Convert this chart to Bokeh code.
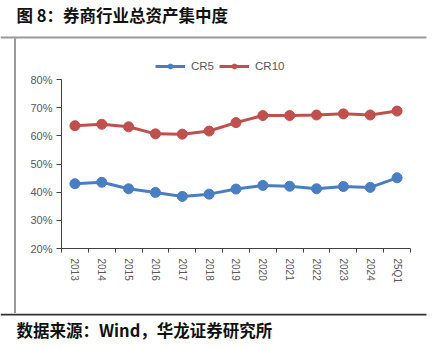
from bokeh.plotting import figure
from bokeh.layouts import column, row
from bokeh.models import (Range1d, FixedTicker, PrintfTickFormatter, Label,
                          BoxAnnotation, Legend, LegendItem, Div)
from bokeh.embed import file_html
from bokeh.resources import INLINE

title_text = "图 8：券商行业总资产集中度"
source_text = "数据来源：Wind，华龙证券研究所"
periods = ["2013", "2014", "2015", "2016", "2017", "2018", "2019",
           "2020", "2021", "2022", "2023", "2024", "25Q1"]
cr5 = [43.0, 43.5, 41.2, 39.9, 38.5, 39.3, 41.1, 42.4, 42.1, 41.2, 42.0, 41.7, 45.1]
cr10 = [63.6, 64.1, 63.2, 60.7, 60.6, 61.7, 64.7, 67.2, 67.2, 67.4, 67.8, 67.4, 68.8]
y_ticks = [20, 30, 40, 50, 60, 70, 80]

W, H = 435, 348
TOP_H = 39          # title band height
BOT_Y = 313         # footer band starts here
STRIP_W = 16        # left strip with vertical rule
MID_H = BOT_Y - TOP_H
MAIN_W = W - STRIP_W

BLUE = "#4A7EC2"
RED = "#C0504D"
AX = "#404040"
LBL = "#595959"
RULE = "#9a9a9a"


def blank(w, h):
    f = figure(width=w, height=h, output_backend="svg", toolbar_location=None,
               x_axis_location=None, y_axis_location=None,
               x_range=Range1d(0, w), y_range=Range1d(0, h),
               min_border=0, min_border_left=0, min_border_right=0,
               min_border_top=0, min_border_bottom=0)
    f.outline_line_color = None
    f.grid.visible = False
    f.background_fill_color = "white"
    f.border_fill_color = "white"
    return f


def box(f, h, x0, x1, y0, y1, color):
    # x0..x1, y0..y1 in the band's own pixels from its top-left corner
    f.add_layout(BoxAnnotation(left=x0, right=x1, top=h - y0, bottom=h - y1,
                               left_units="screen", right_units="screen",
                               top_units="screen", bottom_units="screen",
                               fill_color=color, fill_alpha=1, line_color=None))


# ---- title band ----
ft = blank(W, TOP_H)
ft.add_layout(Label(x=16, y=TOP_H - 26, x_units="screen", y_units="screen", text=title_text,
                    text_font="Noto Sans CJK SC", text_font_style="bold",
                    text_font_size="16.5px", text_color="#111111"))
box(ft, TOP_H, 0, 426, 36, 38, RULE)
box(ft, TOP_H, 14, 16, 37, TOP_H, RULE)

# ---- left strip (vertical rule) ----
fs = Div(text="", width=STRIP_W, height=MID_H,
         styles={"background": "linear-gradient(to right, #ffffff 14px, %s 14px, %s 16px)"
                 % (RULE, RULE),
                 "margin": "0", "padding": "0"})

# ---- main chart ----
FL, FR, FT, FB = 61 - STRIP_W, 410 - STRIP_W, 58 - TOP_H, 248 - TOP_H
Y0, Y80 = 248 - TOP_H, 79 - TOP_H
y_top = 80 + (Y80 - FT) * 60.0 / (Y0 - Y80)

xs = list(range(len(periods)))
p = figure(width=MAIN_W, height=MID_H, output_backend="svg", toolbar_location=None,
           x_range=Range1d(-0.5, len(periods) - 0.5), y_range=Range1d(20, y_top),
           min_border_left=FL, min_border_right=MAIN_W - FR,
           min_border_top=FT, min_border_bottom=MID_H - FB)
p.outline_line_color = None
p.grid.visible = False
p.background_fill_color = "white"
p.border_fill_color = "white"

r1 = p.line(xs, cr5, line_color=BLUE, line_width=3)
c1 = p.scatter(xs, cr5, size=10, fill_color=BLUE, line_color=BLUE)
r2 = p.line(xs, cr10, line_color=RED, line_width=3)
c2 = p.scatter(xs, cr10, size=10, fill_color=RED, line_color=RED)

xa = p.xaxis[0]
xa.ticker = FixedTicker(ticks=xs, minor_ticks=[i - 0.5 for i in range(len(periods) + 1)])
xa.major_label_overrides = {i: s for i, s in enumerate(periods)}
xa.major_label_orientation = -1.5708
xa.major_tick_out = 0
xa.major_tick_in = 0
xa.minor_tick_out = 4
xa.minor_tick_in = 0
xa.minor_tick_line_color = AX
xa.axis_line_color = AX
xa.major_label_text_font = "Liberation Sans"
xa.major_label_text_font_size = "10px"
xa.major_label_text_color = LBL
xa.major_label_standoff = 6

ya = p.yaxis[0]
ya.ticker = FixedTicker(ticks=y_ticks, minor_ticks=[])
ya.bounds = (20, 80)
ya.formatter = PrintfTickFormatter(format="%d%%")
ya.major_tick_out = 5
ya.major_tick_in = 0
ya.major_tick_line_color = AX
ya.axis_line_color = AX
ya.major_label_text_font = "Liberation Sans"
ya.major_label_text_font_size = "11px"
ya.major_label_text_color = LBL
ya.major_label_standoff = 4

legend = Legend(items=[LegendItem(label="CR5", renderers=[r1, c1]),
                       LegendItem(label="CR10", renderers=[r2, c2])],
                orientation="horizontal",
                location=(155 - 61, FB - (72 - TOP_H)),
                background_fill_alpha=0, border_line_color=None,
                label_text_font="Liberation Sans", label_text_font_size="11.5px",
                label_text_color=LBL, glyph_width=30, glyph_height=12,
                label_standoff=6, spacing=5, padding=0, margin=0)
p.add_layout(legend, "center")

# ---- footer band ----
FOOT_H = H - BOT_Y
fb = blank(W, FOOT_H)
box(fb, FOOT_H, 0, 426, 0, 2, "#333333")
fb.add_layout(Label(x=16, y=FOOT_H - 28, x_units="screen", y_units="screen", text=source_text,
                    text_font="Noto Sans CJK SC", text_font_style="bold",
                    text_font_size="16.5px", text_color="#111111"))

layout = column(ft, row(fs, p, spacing=0), fb, spacing=0)
open("out.html", "w").write(file_html(layout, INLINE))
